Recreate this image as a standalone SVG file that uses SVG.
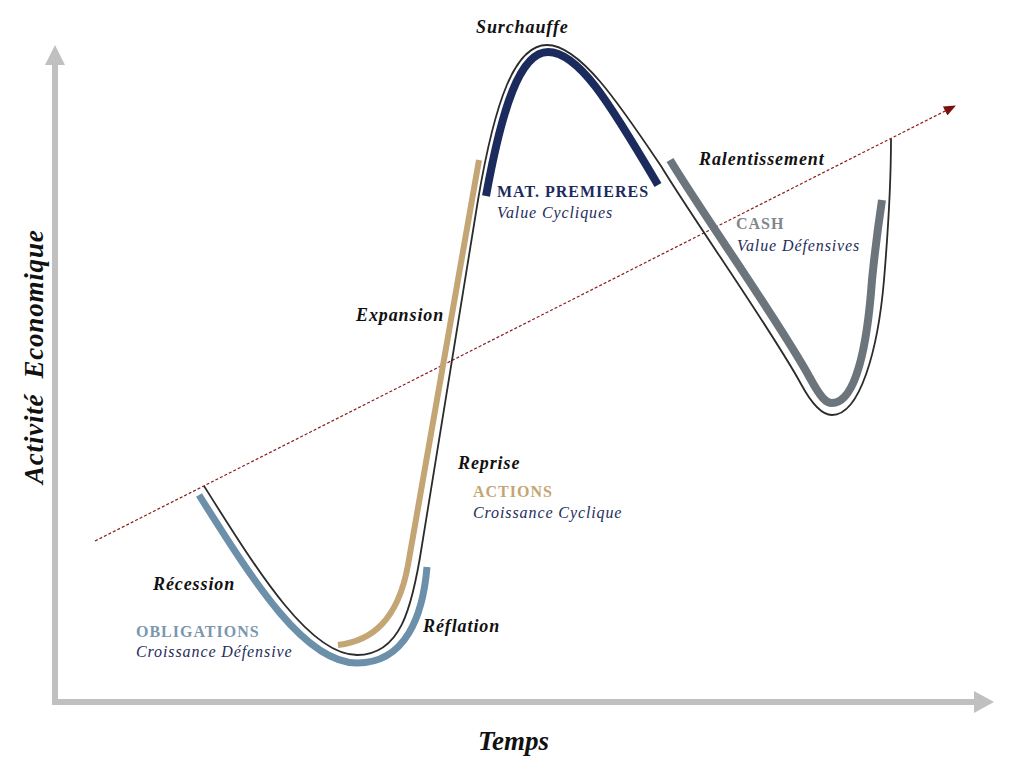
<svg xmlns="http://www.w3.org/2000/svg" width="1017" height="778" viewBox="0 0 1017 778">
<defs>
<style>
.phase{font-family:"Liberation Serif","Times New Roman",serif;font-weight:bold;font-style:italic;font-size:18px;fill:#111;letter-spacing:0.9px}
.asset{font-family:"Liberation Serif","Times New Roman",serif;font-weight:bold;font-size:16px;letter-spacing:1px}
.sub{font-family:"Liberation Serif","Times New Roman",serif;font-style:italic;font-size:16px;fill:#1f2d5c;letter-spacing:0.9px}
.axislabel{font-family:"Liberation Serif","Times New Roman",serif;font-weight:bold;font-style:italic;fill:#111}
.band{fill:none;stroke-linecap:butt;stroke-linejoin:round}
.main{fill:none;stroke:#2b2b2b;stroke-width:1.8}
</style>
<marker id="trendhead" viewBox="0 0 12 10" refX="11" refY="5" markerWidth="12" markerHeight="10" markerUnits="userSpaceOnUse" orient="auto">
<path d="M0,0 L12,5 L0,10 Z" fill="#7a1010"/>
</marker>
</defs>
<rect width="1017" height="778" fill="#ffffff"/>
<g id="connectors">
<g id="axis-y">
<line x1="55" y1="705" x2="55" y2="63" stroke="#c0c0c0" stroke-width="6"/>
<polygon points="45,65 55,45 65,65" fill="#c0c0c0"/>
</g>
<g id="axis-x">
<line x1="52" y1="702" x2="976" y2="702" stroke="#c0c0c0" stroke-width="6"/>
<polygon points="974,691 994,702 974,713" fill="#c0c0c0"/>
</g>
<line id="trend" x1="95" y1="541" x2="955" y2="106" stroke="#8b1c1c" stroke-width="1.2" stroke-dasharray="3,2" marker-end="url(#trendhead)"/>
<path id="cycle" class="main" d="M204,486 C260,575 310,655 357,655 C400,655 412,610 422,545 L478,200 C495,100 515,45 547,45 C580,45 620,105 661,166 C693,219 771,329 801,384 C815,410 825,415 832,415 C860,415 878,350 884,280 C889,220 891,180 891,139"/>
</g>
<g id="obligations">
<path class="band" stroke="#6d90aa" stroke-width="7" d="M199,495 C255,584 305,663 357,663 C406,663 423,615 427,567"/>
<text class="asset" x="136" y="637" fill="#7b97ae">OBLIGATIONS</text>
<text class="sub" x="136" y="657">Croissance Défensive</text>
</g>
<g id="actions">
<path class="band" stroke="#c4a574" stroke-width="6" d="M338,645 C372,641 398,620 408,565 L479,160"/>
<text class="asset" x="473" y="497" fill="#c4a574">ACTIONS</text>
<text class="sub" x="473" y="518">Croissance Cyclique</text>
</g>
<g id="matieres">
<path class="band" stroke="#1c2b5e" stroke-width="8" d="M486,196 C502,108 520,52 548,52 C578,52 608,100 658,185"/>
<text class="asset" x="497" y="197" fill="#1c2b5e">MAT. PREMIERES</text>
<text class="sub" x="497" y="218">Value Cycliques</text>
</g>
<g id="cash">
<path class="band" stroke="#6d757c" stroke-width="8" d="M670,160 C702,213 780,323 810,378 C821,398 826,403 832,403 C855,403 867,350 872,280 C876,240 879,220 882,200"/>
<text class="asset" x="736" y="229" fill="#80868b">CASH</text>
<text class="sub" x="737" y="251">Value Défensives</text>
</g>
<g id="phase-surchauffe"><text class="phase" x="476" y="33">Surchauffe</text></g>
<g id="phase-ralentissement"><text class="phase" x="699" y="165">Ralentissement</text></g>
<g id="phase-expansion"><text class="phase" x="356" y="321">Expansion</text></g>
<g id="phase-reprise"><text class="phase" x="458" y="469">Reprise</text></g>
<g id="phase-recession"><text class="phase" x="153" y="590">Récession</text></g>
<g id="phase-reflation"><text class="phase" x="423" y="632">Réflation</text></g>
<g id="label-temps"><text class="axislabel" x="478" y="750" font-size="27">Temps</text></g>
<g id="label-activite"><text class="axislabel" x="0" y="0" font-size="27" letter-spacing="0.8" transform="translate(43,484) rotate(-90)" xml:space="preserve">Activité  Economique</text></g>
</svg>
